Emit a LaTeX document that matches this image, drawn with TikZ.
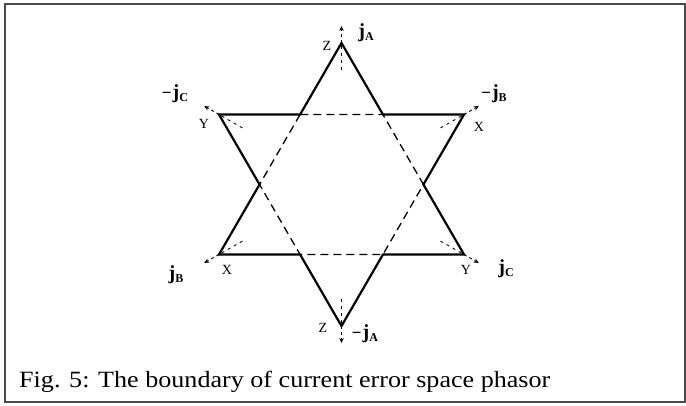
\documentclass[tikz,border=0pt]{standalone}
\usepackage{fontspec}
\setmainfont{Liberation Serif}
\newfontfamily\capfont[FakeStretch=1.12]{Liberation Serif}
\usetikzlibrary{calc,arrows.meta}
\tikzset{
  solidline/.style={line width=2.2pt,line join=miter},
  dashline/.style={line width=1.3pt,dash pattern=on 8pt off 5pt},
  vecline/.style={line width=0.9pt,dash pattern=on 3pt off 3pt,-{Stealth[length=5pt,width=4.5pt]}},
  inline/.style={line width=0.9pt,dash pattern=on 3pt off 4pt},
  vlab/.style={font=\fontsize{14}{15}\selectfont,inner sep=0pt},
  jlab/.style={inner sep=0pt},
  frame/.style={line width=2pt,draw={rgb,255:red,75;green,75;blue,75}}
}
\newcommand{\jv}[1]{{\fontsize{20}{22}\selectfont\bfseries j}{\fontsize{12}{13}\selectfont\bfseries\raisebox{-2.5pt}{#1}}}
\newcommand{\mn}{{\fontsize{17}{18}\selectfont\bfseries −\kern1pt}}
\begin{document}
\begin{tikzpicture}[x=1pt,y=-1pt]
\useasboundingbox (0,0) rectangle (686,405);
\draw[frame] (5,4) rectangle (685,402);
% vertices
\coordinate (C) at (341.5,184.5);
\coordinate (T) at (341.5,43);
\coordinate (B) at (341.5,326);
\coordinate (UL) at (219,114.5);
\coordinate (UR) at (464,114.5);
\coordinate (BL) at (219,254.5);
\coordinate (BR) at (464,254.5);
% inner hexagon points
\coordinate (p1) at (intersection of T--BL and UL--UR);
\coordinate (p2) at (intersection of T--BL and UL--B);
\coordinate (p3) at (intersection of BL--BR and UL--B);
\coordinate (p4) at (intersection of BL--BR and UR--B);
\coordinate (p5) at (intersection of T--BR and UR--B);
\coordinate (p6) at (intersection of T--BR and UL--UR);
\draw[dashline] (p1) -- (p2) -- (p3) -- (p4) -- (p5) -- (p6) -- cycle;
\draw[solidline] (T) -- (p1) -- (UL) -- (p2) -- (BL) -- (p3) -- (B) -- (p4) -- (BR) -- (p5) -- (UR) -- (p6) -- cycle;
% vectors and inner dashes
\foreach \v in {T,B,UL,UR,BL,BR}{
  \coordinate (\v o) at ($(\v)!-17pt!(C)$);
  \coordinate (\v i) at ($(\v)!27pt!(C)$);
  \draw[vecline] (\v) -- (\v o);
  \draw[inline] ($(\v)!3pt!(C)$) -- (\v i);
}
% labels
\node[vlab] (zt) at (327,46) {Z};
\node[jlab] (jA) at (366,33) {\jv{A}};
\node[vlab] (yul) at (204,124) {Y};
\node[jlab] (mjC) at (175,94) {\mn\jv{C}};
\node[vlab] (xur) at (479,127) {X};
\node[jlab] (mjB) at (494,94) {\mn\jv{B}};
\node[vlab] (xbl) at (227,270) {X};
\node[jlab] (jB) at (176,275) {\jv{B}};
\node[vlab] (ybr) at (466,270) {Y};
\node[jlab] (jC) at (506,269) {\jv{C}};
\node[vlab] (zb) at (323,328) {Z};
\node[jlab] (mjA) at (365,334) {\mn\jv{A}};
\node[anchor=base west,inner sep=0pt,font=\capfont\fontsize{23.3}{25}\selectfont] (cap) at (19,387) {Fig. 5: The boundary of current error space phasor};
\end{tikzpicture}
\end{document}
